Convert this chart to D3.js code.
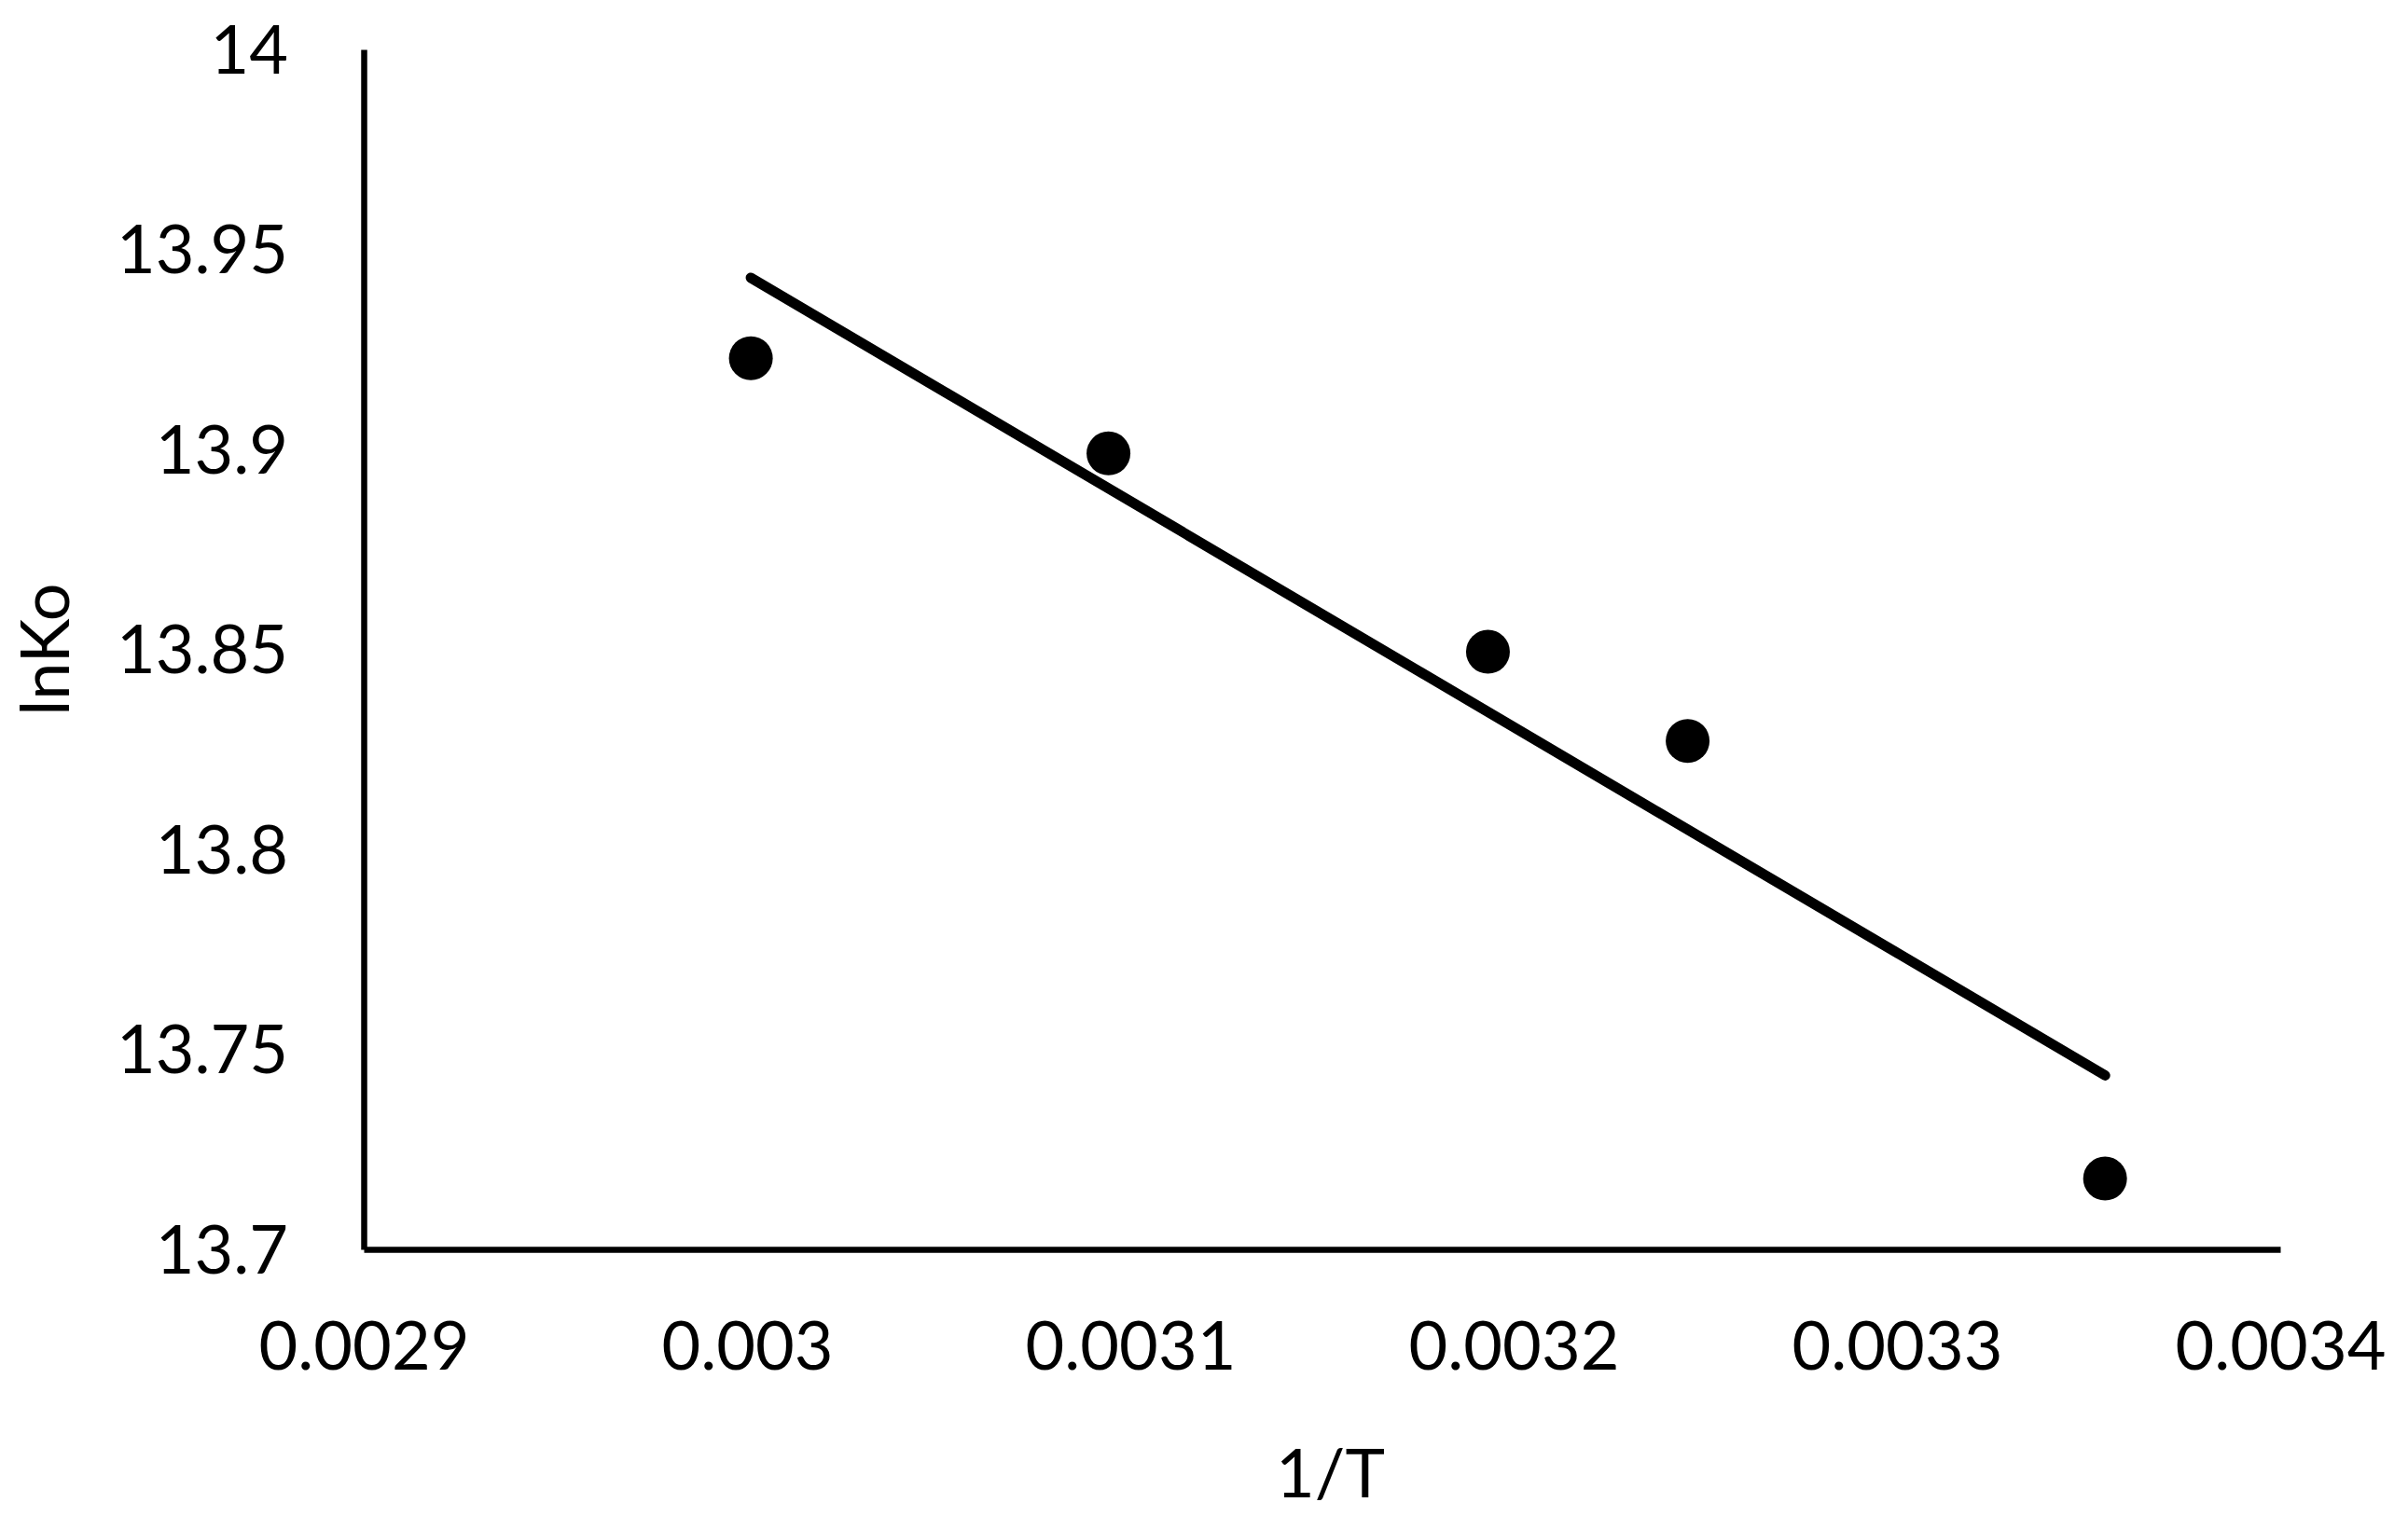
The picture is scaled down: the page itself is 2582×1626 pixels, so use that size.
<!DOCTYPE html>
<html>
<head>
<meta charset="utf-8">
<script src="https://cdn.jsdelivr.net/npm/d3@7"></script>
<style>
  html, body { margin: 0; padding: 0; background: #fff; }
  svg text { font-family: Lato, "Open Sans", sans-serif; fill: #000; }
</style>
</head>
<body>
<div id="chart"></div>
<script>
// 1/T values and lnKo values
const invT = [0.003001, 0.0030943, 0.0031933, 0.0032454, 0.0033543];
const lnKo = [13.9228, 13.899, 13.8494, 13.8271, 13.7177];
const xTicks = [0.0029, 0.003, 0.0031, 0.0032, 0.0033, 0.0034];
const yTicks = [13.7, 13.75, 13.8, 13.85, 13.9, 13.95, 14];
const xTickLabels = ["0.0029", "0.003", "0.0031", "0.0032", "0.0033", "0.0034"];
const yTickLabels = ["13.7", "13.75", "13.8", "13.85", "13.9", "13.95", "14"];

const width = 2582, height = 1626;
const margin = { top: 53, right: 137, bottom: 286, left: 390 };

const svg = d3.select("#chart")
  .append("svg")
  .attr("width", width)
  .attr("height", height);

const x = d3.scaleLinear()
  .domain([0.0029, 0.0034])
  .range([margin.left, width - margin.right]);
const y = d3.scaleLinear()
  .domain([13.7, 14])
  .range([height - margin.bottom, margin.top]);

const points = invT.map((v, i) => ({ x: v, y: lnKo[i] }));

// linear trend line (least squares), drawn over the data range
const mx = d3.mean(invT), my = d3.mean(lnKo);
const slope = d3.sum(points, (d) => (d.x - mx) * (d.y - my)) /
  d3.sum(points, (d) => (d.x - mx) ** 2);
const intercept = my - slope * mx;
const xExt = d3.extent(invT);

// axes
const xAxis = d3.axisBottom(x)
  .tickValues(xTicks)
  .tickFormat((d, i) => xTickLabels[i])
  .tickSize(0)
  .tickPadding(78);
const yAxis = d3.axisLeft(y)
  .tickValues(yTicks)
  .tickFormat((d, i) => yTickLabels[i])
  .tickSize(0)
  .tickPadding(81);

const gx = svg.append("g")
  .attr("transform", `translate(0,${height - margin.bottom})`)
  .call(xAxis);
const gy = svg.append("g")
  .attr("transform", `translate(${margin.left},0)`)
  .call(yAxis);

[gx, gy].forEach((g) => {
  g.select(".domain").attr("stroke", "#000").attr("stroke-width", 6.5);
  g.selectAll("text")
    .style("font-size", "72px")
    .style("font-family", "Lato, 'Open Sans', sans-serif");
});
gy.selectAll("text").attr("dy", "0.35em");

// trend line
svg.append("line")
  .attr("x1", x(xExt[0]))
  .attr("y1", y(intercept + slope * xExt[0]))
  .attr("x2", x(xExt[1]))
  .attr("y2", y(intercept + slope * xExt[1]))
  .attr("stroke", "#000")
  .attr("stroke-width", 11)
  .attr("stroke-linecap", "round");

// markers
svg.append("g")
  .selectAll("circle")
  .data(points)
  .enter()
  .append("circle")
  .attr("cx", (d) => x(d.x))
  .attr("cy", (d) => y(d.y))
  .attr("r", 23.5)
  .attr("fill", "#000");

// axis titles
svg.append("text")
  .attr("x", (margin.left + width - margin.right) / 2 + 9)
  .attr("y", 1581)
  .attr("dy", "0.35em")
  .attr("text-anchor", "middle")
  .style("font-size", "72px")
  .text("1/T");

svg.append("text")
  .attr("transform", `translate(49,${(margin.top + height - margin.bottom) / 2}) rotate(-90)`)
  .attr("dy", "0.35em")
  .attr("text-anchor", "middle")
  .style("font-size", "72px")
  .text("lnKo");
</script>
</body>
</html>
